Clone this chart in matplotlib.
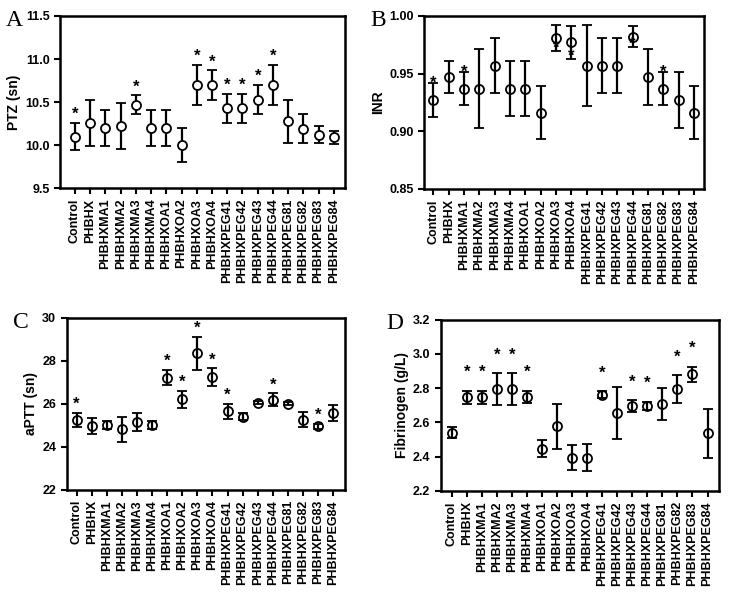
import matplotlib
matplotlib.use("Agg")
import matplotlib.pyplot as plt
import numpy as np

plt.rcParams['font.family'] = ['Liberation Sans', 'DejaVu Sans']
plt.rcParams['font.weight'] = 'bold'

groups = ['Control', 'PHBHX', 'PHBHXMA1', 'PHBHXMA2', 'PHBHXMA3', 'PHBHXMA4',
          'PHBHXOA1', 'PHBHXOA2', 'PHBHXOA3', 'PHBHXOA4',
          'PHBHXPEG41', 'PHBHXPEG42', 'PHBHXPEG43', 'PHBHXPEG44',
          'PHBHXPEG81', 'PHBHXPEG82', 'PHBHXPEG83', 'PHBHXPEG84']

# A: PTZ
ptz_mean = [10.10, 10.26, 10.20, 10.22, 10.47, 10.20, 10.20, 10.00, 10.70, 10.70,
            10.43, 10.43, 10.53, 10.70, 10.28, 10.19, 10.12, 10.09]
ptz_err = [0.16, 0.27, 0.21, 0.27, 0.11, 0.21, 0.21, 0.20, 0.23, 0.17,
           0.17, 0.17, 0.17, 0.23, 0.25, 0.17, 0.10, 0.08]
ptz_star = [0, 4, 8, 9, 10, 11, 12, 13]

# B: INR
inr_mean = [0.927, 0.947, 0.937, 0.937, 0.957, 0.937, 0.937, 0.916, 0.981, 0.977,
            0.957, 0.957, 0.957, 0.982, 0.947, 0.937, 0.927, 0.916]
inr_err = [0.015, 0.014, 0.014, 0.034, 0.024, 0.024, 0.024, 0.023, 0.011, 0.014,
           0.035, 0.024, 0.024, 0.009, 0.024, 0.014, 0.024, 0.023]
inr_star_up = [0, 2, 15]
inr_star_down = [8, 9, 13]

# C: aPTT
aptt_mean = [25.25, 24.95, 25.00, 24.80, 25.13, 25.02, 27.22, 26.20, 28.35, 27.25,
             25.65, 25.40, 26.05, 26.19, 26.00, 25.25, 24.95, 25.58]
aptt_err = [0.32, 0.38, 0.20, 0.60, 0.42, 0.18, 0.35, 0.40, 0.78, 0.40,
            0.35, 0.15, 0.08, 0.30, 0.07, 0.35, 0.12, 0.38]
aptt_star = [0, 6, 7, 8, 9, 10, 13, 16]

# D: Fibrinogen
fib_mean = [2.54, 2.746, 2.746, 2.794, 2.794, 2.75, 2.447, 2.577, 2.394, 2.394,
            2.761, 2.654, 2.694, 2.696, 2.707, 2.794, 2.881, 2.535]
fib_err = [0.03, 0.04, 0.04, 0.095, 0.095, 0.035, 0.048, 0.133, 0.075, 0.077,
           0.02, 0.15, 0.035, 0.025, 0.094, 0.08, 0.045, 0.143]
fib_star = [1, 2, 3, 4, 5, 10, 12, 13, 15, 16]

fig = plt.figure(figsize=(7.32, 5.92), dpi=100)


def panel(rect, mean, err, ylim, yticks, ylabel, letter, xlim, face,
          stars_up, star_off, stars_down=(), fmt='%.1f'):
    ax = fig.add_axes(rect)
    x = np.arange(len(groups))
    mean = np.array(mean)
    err = np.array(err)
    ax.errorbar(x, mean, yerr=err, fmt='o', color='black', mfc=face, mec='black',
                ms=6.5, mew=1.3, ecolor='black', elinewidth=1.6, capsize=3.5,
                capthick=1.6, zorder=3)
    for i in stars_up:
        ax.annotate('*', (x[i], mean[i] + err[i]), xytext=(0, star_off),
                    textcoords='offset points', ha='center', va='center',
                    fontsize=12, fontweight='bold')
    for i in stars_down:
        ax.annotate('*', (x[i], mean[i] - err[i]), xytext=(0, 2),
                    textcoords='offset points', ha='center', va='center',
                    fontsize=12, fontweight='bold')
    ax.set_xlim(*xlim)
    ax.set_ylim(*ylim)
    ax.set_yticks(yticks)
    ax.set_yticklabels([fmt % v for v in yticks])
    ax.set_xticks(x)
    ax.set_xticklabels(groups, rotation=90)
    ax.tick_params(axis='both', labelsize=9, width=1.5, length=4, direction='out')
    ax.tick_params(top=False, right=False)
    for s in ax.spines.values():
        s.set_linewidth(1.8)
    ax.set_ylabel(ylabel, fontsize=10, fontweight='bold', labelpad=3)
    # panel letter, left of the top tick label
    ax.annotate(letter, (0, 1), xycoords='axes fraction', xytext=(-27, -3),
                textcoords='offset points', fontsize=17, family='Liberation Serif',
                fontweight='normal', ha='right', va='center')
    return ax


panel([0.082, 0.682, 0.389, 0.291], ptz_mean, ptz_err, (9.5, 11.5),
      [9.5, 10.0, 10.5, 11.0, 11.5], 'PTZ (sn)', 'A', (-0.98, 17.72), 'white',
      ptz_star, 6)
panel([0.579, 0.681, 0.383, 0.292], inr_mean, inr_err, (0.85, 1.00),
      [0.85, 0.90, 0.95, 1.00], 'INR', 'B', (-0.63, 17.67), 'none',
      inr_star_up, 0, inr_star_down, fmt='%.2f')
panel([0.091, 0.173, 0.380, 0.290], aptt_mean, aptt_err, (22, 30),
      [22, 24, 26, 28, 30], 'aPTT (sn)', 'C', (-0.66, 17.77), 'none',
      aptt_star, 6, fmt='%d')
panel([0.602, 0.171, 0.380, 0.289], fib_mean, fib_err, (2.2, 3.2),
      [2.2, 2.4, 2.6, 2.8, 3.0, 3.2], 'Fibrinogen (g/L)', 'D', (-0.73, 17.75),
      'none', fib_star, 13)

fig.savefig('out.png', dpi=100)
